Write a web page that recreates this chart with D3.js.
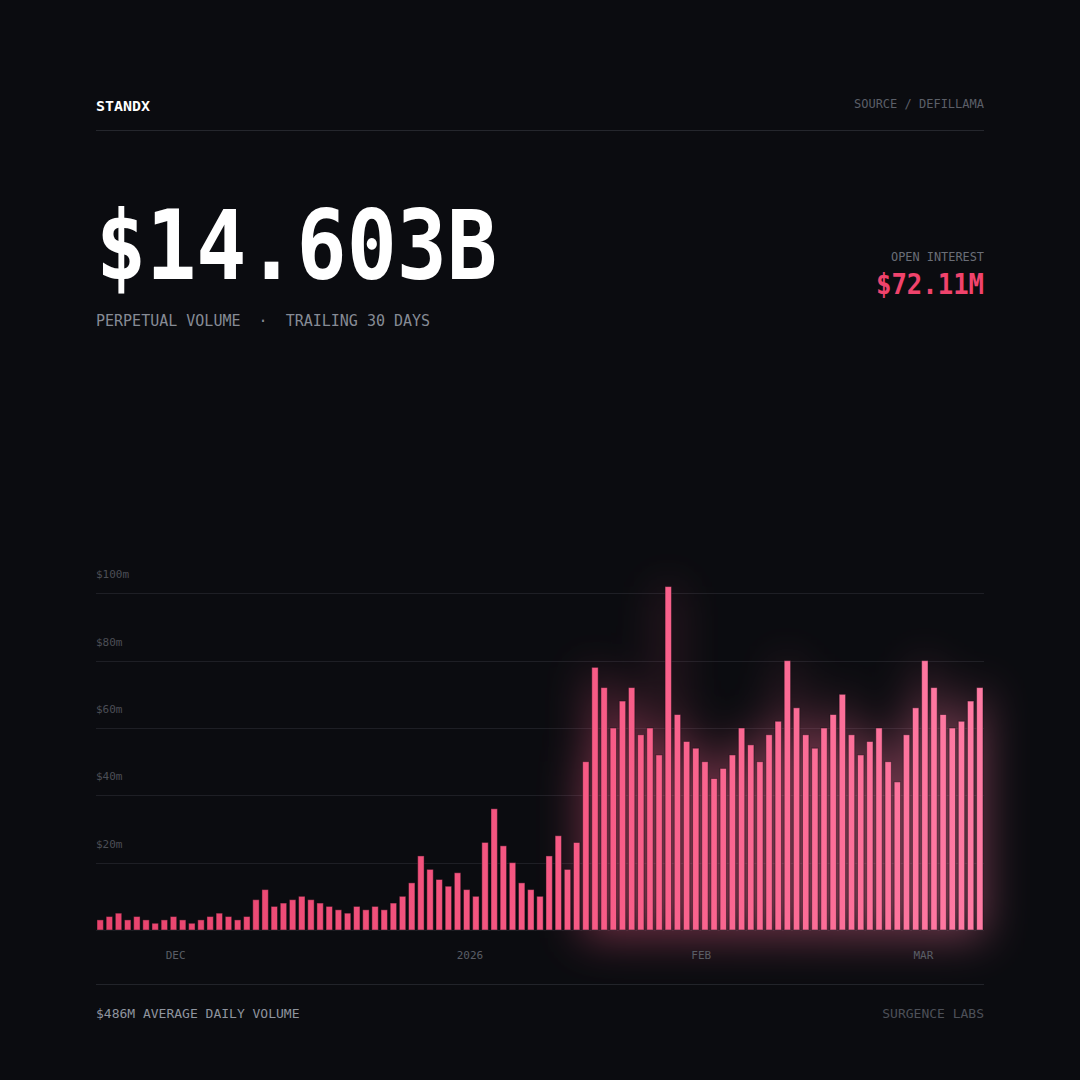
<!DOCTYPE html>
<html>
<head>
<meta charset="utf-8">
<script src="https://cdn.jsdelivr.net/npm/d3@7"></script>
<style>
  html, body { margin: 0; padding: 0; background: #0b0c10; }
  svg { display: block; }
</style>
</head>
<body>
<div id="viz"></div>
<script>
// Chart data (daily perp volume, $m)
const volumes = [
  3, 4, 5, 3, 4, 3, 2, 3, 4, 3, 2, 3, 4, 5, 4, 3, 4,
  9, 12, 7, 8, 9, 10, 9, 8, 7, 6, 5, 7, 6, 7, 6, 8, 10, 14,
  22, 18, 15, 13, 17, 12, 10, 26, 36, 25, 20, 14, 12, 10, 22, 28, 18, 26,
  50, 78, 72, 60, 68, 72, 58, 60, 52, 102, 64, 56, 54, 50, 45, 48, 52, 60, 55, 50,
  58, 62, 80, 66, 58, 54, 60, 64, 70, 58, 52, 56, 60, 50, 44, 58, 66, 80, 72, 64,
  60, 62, 68, 72
];
const days = d3.range(volumes.length);

const yTicks = [20, 40, 60, 80, 100];
const gridTicks = [0, 20, 40, 60, 80, 100];

const xTickLabels = ['DEC', '2026', 'FEB', 'MAR'];
const xTickAt = [8.23, 40.35, 65.6, 89.85]; // bar index (fractional)

const headline = '$14.603B';
const openInterest = '$72.11M';

// Layout
const width = 1080, height = 1080;
const left = 96, right = 984;
const mono = "'DejaVu Sans Mono', 'Liberation Mono', monospace";

const svg = d3.select('#viz').append('svg')
    .attr('width', width)
    .attr('height', height)
    .style('background', '#0b0c10');

const defs = svg.append('defs');

const grad = defs.append('linearGradient')
    .attr('id', 'barGrad')
    .attr('gradientUnits', 'userSpaceOnUse')
    .attr('x1', left).attr('x2', right)
    .attr('y1', 0).attr('y2', 0);
grad.append('stop').attr('offset', '0%').attr('stop-color', '#e8436d');
grad.append('stop').attr('offset', '55%').attr('stop-color', '#f75a85');
grad.append('stop').attr('offset', '100%').attr('stop-color', '#ff7ba4');

const glow = defs.append('filter')
    .attr('id', 'glow')
    .attr('filterUnits', 'userSpaceOnUse')
    .attr('x', 450).attr('y', 500)
    .attr('width', 630).attr('height', 520);
glow.append('feGaussianBlur').attr('stdDeviation', 22);

// Header
svg.append('text')
    .attr('x', left).attr('y', 111)
    .attr('font-family', mono).attr('font-size', 14.5)
    .attr('font-weight', 'bold')
    .attr('fill', '#ffffff')
    .attr('textLength', 54).attr('lengthAdjust', 'spacingAndGlyphs')
    .text('STANDX');

svg.append('text')
    .attr('x', right).attr('y', 108)
    .attr('text-anchor', 'end')
    .attr('font-family', mono).attr('font-size', 12)
    .attr('fill', '#5b5f68')
    .text('SOURCE / DEFILLAMA');

svg.append('line')
    .attr('x1', left).attr('x2', right)
    .attr('y1', 130.5).attr('y2', 130.5)
    .attr('stroke', '#25272d');

// Headline number
svg.append('text')
    .attr('x', left).attr('y', 279)
    .attr('font-family', mono).attr('font-size', 96)
    .attr('font-weight', 'bold')
    .attr('fill', '#ffffff')
    .attr('textLength', 401).attr('lengthAdjust', 'spacingAndGlyphs')
    .text(headline);

svg.append('text')
    .attr('x', left).attr('y', 326)
    .attr('font-family', mono).attr('font-size', 15)
    .attr('fill', '#868b95')
    .attr('xml:space', 'preserve')
    .style('white-space', 'pre')
    .text('PERPETUAL VOLUME  \u00b7  TRAILING 30 DAYS');

svg.append('text')
    .attr('x', right).attr('y', 261)
    .attr('text-anchor', 'end')
    .attr('font-family', mono).attr('font-size', 12.5)
    .attr('fill', '#6a6e77')
    .attr('textLength', 93).attr('lengthAdjust', 'spacingAndGlyphs')
    .text('OPEN INTEREST');

svg.append('text')
    .attr('x', right).attr('y', 294)
    .attr('text-anchor', 'end')
    .attr('font-family', mono).attr('font-size', 29)
    .attr('font-weight', 'bold')
    .attr('fill', '#f0436c')
    .attr('textLength', 108).attr('lengthAdjust', 'spacingAndGlyphs')
    .text(openInterest);

// Scales
const x = d3.scaleBand()
    .domain(days)
    .range([97, 983])
    .paddingInner(0.3)
    .paddingOuter(0);

const y = d3.scaleLinear()
    .domain([0, 100])
    .range([930, 593.3]);

const tickX = t => x(0) + x.bandwidth() / 2 + t * x.step();

// Gridlines
svg.append('g')
    .selectAll('line').data(gridTicks)
    .enter().append('line')
        .attr('x1', left).attr('x2', right)
        .attr('y1', d => Math.round(y(d)) + 0.5)
        .attr('y2', d => Math.round(y(d)) + 0.5)
        .attr('stroke', '#1e1f25');

svg.append('g')
    .selectAll('text').data(yTicks)
    .enter().append('text')
        .attr('x', left)
        .attr('y', d => y(d) - 15)
        .attr('font-family', mono).attr('font-size', 11)
        .attr('fill', '#4b4e56')
        .text(d => `$${d}m`);

// Glow behind the tall bars
svg.append('g')
    .attr('filter', 'url(#glow)')
    .attr('opacity', 0.42)
    .selectAll('rect').data(days.filter(i => volumes[i] >= 40))
    .enter().append('rect')
        .attr('x', i => x(i) - 1.5)
        .attr('width', x.step())
        .attr('y', i => y(volumes[i]))
        .attr('height', i => y(0) - y(volumes[i]) + 8)
        .attr('fill', 'url(#barGrad)');

// Bars
svg.append('g')
    .selectAll('rect').data(days)
    .enter().append('rect')
        .attr('x', i => x(i))
        .attr('width', x.bandwidth())
        .attr('y', i => y(volumes[i]))
        .attr('height', i => y(0) - y(volumes[i]))
        .attr('fill', 'url(#barGrad)')
        .attr('stroke', 'rgba(11,12,16,0.45)')
        .attr('stroke-width', 1);

// X labels
svg.append('g')
    .selectAll('text').data(xTickLabels)
    .enter().append('text')
        .attr('x', (d, i) => tickX(xTickAt[i]))
        .attr('y', 959)
        .attr('text-anchor', 'middle')
        .attr('font-family', mono).attr('font-size', 11)
        .attr('fill', '#5a5e66')
        .text(d => d);

// Footer
svg.append('line')
    .attr('x1', left).attr('x2', right)
    .attr('y1', 984.5).attr('y2', 984.5)
    .attr('stroke', '#22242a');

svg.append('text')
    .attr('x', left).attr('y', 1018)
    .attr('font-family', mono).attr('font-size', 13)
    .attr('fill', '#8f949e')
    .text('$486M AVERAGE DAILY VOLUME');

svg.append('text')
    .attr('x', right).attr('y', 1018)
    .attr('text-anchor', 'end')
    .attr('font-family', mono).attr('font-size', 13)
    .attr('fill', '#4d5058')
    .text('SURGENCE LABS');
</script>
</body>
</html>
